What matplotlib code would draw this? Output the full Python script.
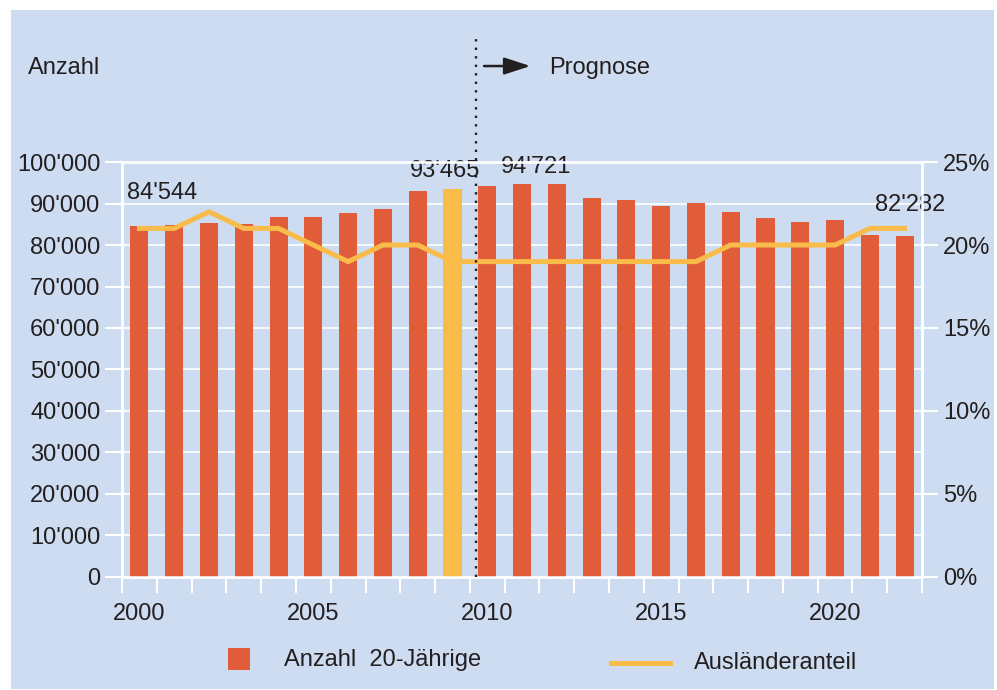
import matplotlib
matplotlib.use("Agg")
import matplotlib.pyplot as plt
from matplotlib.patches import Rectangle, FancyArrowPatch
from matplotlib.lines import Line2D
import numpy as np

# data
years = list(range(2000, 2023))
anzahl = [84544, 84800, 85300, 85100, 86700, 86700, 87800, 88700, 93000, 93465,
          94200, 94721, 94721, 91300, 90800, 89400, 90100, 88000, 86500, 85500,
          86000, 82400, 82282]
auslaender = [21, 21, 22, 21, 21, 20, 19, 20, 20, 19,
              19, 19, 19, 19, 19, 19, 19, 20, 20, 20,
              20, 21, 21]
highlight_year = 2009
label_years = [2000, 2009, 2011, 2022]
label_offsets = [(16, 24), (-5, 13), (10, 12), (4, 22)]

bg = "#cddcf0"
red = "#e15c39"
yellow = "#f9bc4a"
txt = "#231f20"

plt.rcParams['font.family'] = ['Liberation Sans', 'DejaVu Sans']
plt.rcParams['font.size'] = 17

fig = plt.figure(figsize=(9.97, 6.90), dpi=100)
fig.patch.set_facecolor("white")
fig.patches.append(Rectangle((0.011, 0.002), 0.986, 0.9835, transform=fig.transFigure,
                             facecolor=bg, edgecolor="none", zorder=-10))

ax = fig.add_axes([0.1224, 0.1638, 0.8024, 0.6014])
ax.set_facecolor(bg)
ax.patch.set_alpha(0)

colors = [yellow if y == highlight_year else red for y in years]
ax.bar(years, anzahl, width=0.52, color=colors, zorder=3)

ax.set_xlim(1999.5, 2022.5)
ax.set_ylim(0, 100000)
ax.set_yticks(np.arange(0, 100001, 10000))
ax.set_yticklabels([f"{v:,}".replace(",", "'") for v in range(0, 100001, 10000)])
ax.yaxis.grid(True, color="white", linewidth=1.2, zorder=0)
ax.set_axisbelow(True)

ax.set_xticks(np.arange(1999.5, 2023, 1))
ax.set_xticklabels([])
ax.set_xticks([2000, 2005, 2010, 2015, 2020], minor=True)
ax.set_xticklabels(["2000", "2005", "2010", "2015", "2020"], minor=True)
ax.tick_params(axis="x", which="major", length=11.5, width=1.5, color="white", direction="out")
ax.tick_params(axis="x", which="minor", length=0, pad=19, colors=txt)
ax.tick_params(axis="y", length=12, width=1.5, color="white", pad=3.5, labelcolor=txt)

for s in ["left", "bottom", "right", "top"]:
    ax.spines[s].set_color("white")
    ax.spines[s].set_linewidth(1.8)

for yr, (dx, dy) in zip(label_years, label_offsets):
    v = anzahl[years.index(yr)]
    ax.annotate(f"{v:,}".replace(",", "'"), (yr, v), xytext=(dx, dy),
                textcoords="offset points", ha="center", va="center", color=txt)

ax2 = ax.twinx()
ax2.set_ylim(0, 25)
ax2.set_yticks(np.arange(0, 26, 5))
ax2.set_yticklabels([f"{v}%" for v in range(0, 26, 5)])
ax2.tick_params(axis="y", length=11.5, width=1.5, color="white", pad=3.5, labelcolor=txt)
for s in ["left", "bottom", "right", "top"]:
    ax2.spines[s].set_color("white")
    ax2.spines[s].set_linewidth(1.8)
ax2.plot(years, auslaender, color=yellow, linewidth=3.6, solid_joinstyle="miter", zorder=4)

# Prognose divider
ax2.plot([2009.68, 2009.68], [0, 25 * 1.311], color=txt, linestyle=(0, (1.0, 2.6)),
         linewidth=1.7, clip_on=False, zorder=5)

fig.text(0.028, 0.902, "Anzahl", ha="left", va="center", color=txt)
fig.text(0.551, 0.902, "Prognose", ha="left", va="center", color=txt)
fig.add_artist(FancyArrowPatch((0.4855, 0.9043), (0.532, 0.9043),
               transform=fig.transFigure,
               arrowstyle="-|>,head_length=0.8,head_width=0.26", mutation_scale=20,
               linewidth=1.8, color=txt, shrinkA=0, shrinkB=0))

# legend
fig.patches.append(Rectangle((228 / 997, 1 - 670 / 690), 22 / 997, 22 / 690,
                             transform=fig.transFigure, facecolor=red, edgecolor="none"))
fig.text(284 / 997, 1 - 660 / 690, "Anzahl  20-Jährige", ha="left", va="center", color=txt)
fig.add_artist(Line2D([611 / 997, 670 / 997], [1 - 663 / 690, 1 - 663 / 690],
                      transform=fig.transFigure, color=yellow, linewidth=3.6))
fig.text(694 / 997, 1 - 663 / 690, "Ausländeranteil", ha="left", va="center", color=txt)

fig.savefig("out.png", dpi=100)
